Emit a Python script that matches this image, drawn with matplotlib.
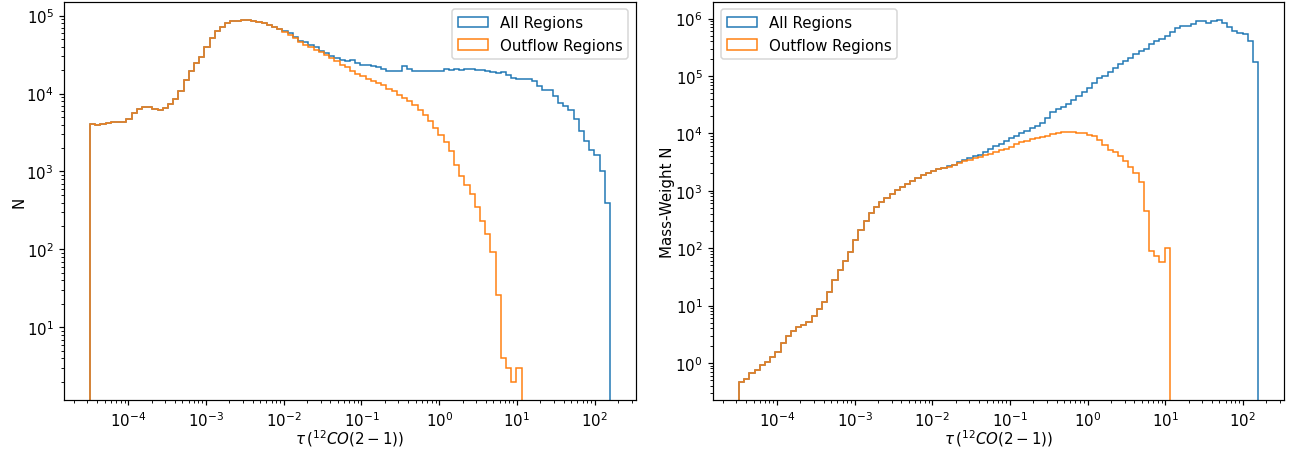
import numpy as np
import matplotlib.pyplot as plt

# 12CO(2-1) optical depth bins (100 log-spaced bins)
tau_min, tau_max = 10 ** -4.49, 10 ** 2.197
n_bins = 100
tau_edges = np.logspace(np.log10(tau_min), np.log10(tau_max), n_bins + 1)
tau_mid = np.sqrt(tau_edges[:-1] * tau_edges[1:])

# pixel counts, all regions
n_all = [4060, 3980, 4100, 4230, 4270, 4320, 4360, 4670, 5570, 6400,
         6780, 6710, 6270, 6080, 6460, 7260, 8490, 10760, 15030, 19630,
         24380, 29650, 39810, 50930, 62660, 71940, 80170, 84140, 85900, 87500,
         87500, 84900, 82600, 79430, 76210, 71940, 67760, 63240, 59020, 52480,
         47530, 45290, 41880, 39080, 34750, 33040, 30200, 28510, 27100, 26300,
         27100, 24600, 23440, 22910, 22340, 21680, 20800, 19590, 19280, 19590,
         22340, 20800, 19590, 19280, 19280, 19590, 19280, 19590, 20800, 19950,
         20800, 20180, 20420, 20610, 19950, 19820, 19280, 18620, 18320, 18660,
         17420, 15810, 15140, 15140, 15350, 14320, 12360, 11190, 10960, 9200,
         7550, 6840, 6190, 4750, 3330, 2480, 1905, 1610, 1023, 394]

# pixel counts, outflow regions (empty above tau ~ 11)
n_out = [4060, 3980, 4100, 4230, 4270, 4320, 4360, 4670, 5570, 6400,
         6780, 6710, 6270, 6080, 6460, 7260, 8490, 10760, 15030, 19630,
         24380, 29650, 39810, 50930, 62660, 71940, 80170, 84140, 85900, 87500,
         87500, 84900, 82600, 79430, 76210, 71940, 67760, 62090, 56750, 51520,
         45290, 42270, 39810, 36140, 34040, 31480, 28510, 25880, 23440, 21680,
         19280, 17950, 16600, 15490, 14620, 13650, 12740, 11530, 10670, 9660,
         8750, 8090, 7180, 6190, 5350, 4480, 3610, 2910, 2390, 1820,
         1200, 867, 678, 515, 348, 234, 158, 93, 26, 4,
         3, 2, 3]

# mass-weighted counts, all regions
m_all = [0.466, 0.533, 0.661, 0.755, 0.912, 1.057, 1.274, 1.556, 2.183, 2.965,
         3.631, 4.150, 4.613, 5.212, 6.471, 8.690, 11.64, 17.02, 27.93, 42.27,
         60.67, 87.30, 140.6, 203.2, 297.9, 403.6, 521.2, 636.8, 748.2, 889.2,
         1045, 1164, 1315, 1503, 1675, 1858, 2046, 2218, 2366, 2506,
         2679, 2858, 3184, 3396, 3741, 3981, 4266, 4753, 5284, 6067,
         6577, 7311, 8147, 8933, 9954, 10940, 12190, 13580, 15140, 18240,
         23880, 26180, 28710, 32430, 38110, 45390, 53330, 60950, 75510, 91200,
         100000, 119400, 140300, 162200, 183200, 209400, 242700, 273500, 300600, 358100,
         399000, 438500, 488700, 574100, 682300, 729400, 729400, 811000, 893300, 893300,
         845300, 893300, 941900, 845300, 701500, 597000, 564900, 549500, 399000, 178600]

# mass-weighted counts, outflow regions
m_out = [0.466, 0.533, 0.661, 0.755, 0.912, 1.057, 1.274, 1.556, 2.183, 2.965,
         3.631, 4.150, 4.613, 5.212, 6.471, 8.690, 11.64, 17.02, 27.93, 42.27,
         60.67, 87.30, 140.6, 203.2, 297.9, 403.6, 521.2, 636.8, 748.2, 889.2,
         1045, 1164, 1315, 1503, 1675, 1858, 2046, 2218, 2366, 2506,
         2606, 2780, 3062, 3266, 3499, 3750, 3899, 4159, 4457, 4764,
         5093, 5445, 5834, 6397, 6934, 7413, 7925, 8375, 8710, 9078,
         9572, 9954, 10380, 10500, 10380, 10090, 9954, 9311, 9078, 7603,
         6223, 5082, 4764, 4055, 3266, 2606, 2070, 1406, 449, 88.5,
         74.3, 58.3, 100]


def pad(values):
    full = np.zeros(n_bins)
    full[:len(values)] = values
    return full


dpi = 108
fig = plt.figure(figsize=(1291 / dpi, 454 / dpi), dpi=dpi)
ax1 = fig.add_axes([0.0496, 0.1167, 0.4430, 0.8767])
ax2 = fig.add_axes([0.5523, 0.1167, 0.4423, 0.8767])

xlabel = r'$\tau\,(^{12}CO(2-1))$'

# number of pixels
ax1.hist(tau_mid, bins=tau_edges, weights=pad(n_all), histtype='step', log=True, label='All Regions')
ax1.hist(tau_mid, bins=tau_edges, weights=pad(n_out), histtype='step', log=True, label='Outflow Regions')
ax1.set_xscale('log')
ax1.set_xlabel(xlabel, labelpad=-1)
ax1.set_ylabel('N', labelpad=0)
ax1.legend(loc='upper right')

# mass weighted
ax2.hist(tau_mid, bins=tau_edges, weights=pad(m_all), histtype='step', log=True, label='All Regions')
ax2.hist(tau_mid, bins=tau_edges, weights=pad(m_out), histtype='step', log=True, label='Outflow Regions')
ax2.set_xscale('log')
ax2.set_xlabel(xlabel, labelpad=-1)
ax2.set_ylabel('Mass-Weight N', labelpad=0)
ax2.legend(loc='upper left')

fig.savefig('out.png', dpi=dpi)
